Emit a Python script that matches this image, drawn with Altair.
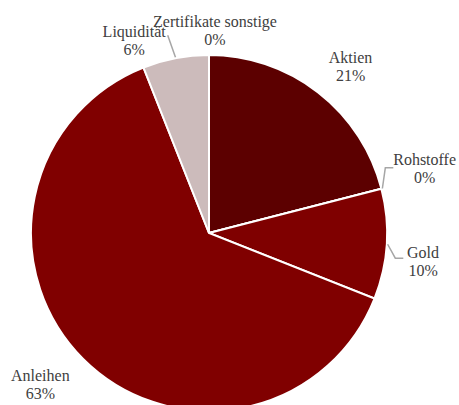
import math
import altair as alt
import pandas as pd

# ---- data ----
categories = ["Aktien", "Rohstoffe", "Gold", "Anleihen", "Liquidität", "Zertifikate  sonstige"]
values = [21, 0, 10, 63, 6, 0]
colors = ["#5C0000", "#7A0000", "#7F0000", "#800000", "#CCBBBB", "#999999"]

# ---- layout (not data) ----
CX, CY, R = 209, 233, 178
label_nudge_deg = [2.7, -2.2, 4.1, 3.0, -10.5, 1.7]
label_radius = [218, 225, 216, 227, 206, 202]
# leader lines: category -> (elbow angle nudge, elbow radius, horizontal tail)
leaders = {"Rohstoffe": (-5.9, 188, 8), "Gold": (4.1, 188, 8), "Liquidität": (-1.0, 202, 0)}

total = sum(values)
rows = []
cum = 0.0
for i, (c, v) in enumerate(zip(categories, values)):
    start = cum / total * 360
    cum += v
    end = cum / total * 360
    mid = (start + end) / 2
    pct = f"{round(v / total * 100)}%"
    rows.append(dict(idx=i, cat=c, value=v, mid=mid,
                     label=f"{c}\n{pct}",
                     label_angle=mid + label_nudge_deg[i],
                     label_r=label_radius[i]))
df = pd.DataFrame(rows)


def polar(a_deg, r):
    a = math.radians(a_deg)
    return CX + r * math.sin(a), CY - r * math.cos(a)


lrows = []
for _, row in df.iterrows():
    if row["cat"] in leaders:
        nud, er, tail = leaders[row["cat"]]
        p0 = polar(row["mid"], R + 1)
        p1 = polar(row["mid"] + nud, er)
        p2 = (p1[0] + tail, p1[1])
        for k, p in enumerate([p0, p1, p2]):
            lrows.append(dict(cat=row["cat"], k=k, px=p[0], py=p[1]))
ldf = pd.DataFrame(lrows)

arcs = alt.Chart(df).mark_arc(stroke="white", strokeWidth=2).encode(
    theta=alt.Theta("value:Q", stack=True),
    order=alt.Order("idx:Q"),
    color=alt.Color("cat:N", scale=alt.Scale(domain=categories, range=colors), legend=None),
    x=alt.value(CX), y=alt.value(CY),
    radius=alt.value(R),
)

texts = alt.Chart(df).mark_text(
    font="Liberation Serif", fontSize=16, color="#404040", lineBreak="\n",
    lineHeight=18, align="center", baseline="middle", dy=-9,
).encode(
    theta=alt.Theta("label_angle:Q", scale=alt.Scale(domain=[0, 360], range=[0, 2 * math.pi]), stack=None),
    radius=alt.Radius("label_r:Q", scale=None),
    x=alt.value(CX), y=alt.value(CY),
    text="label:N",
)

lines = alt.Chart(ldf).mark_line(color="#A6A6A6", strokeWidth=1.5).encode(
    x=alt.X("px:Q", scale=None), y=alt.Y("py:Q", scale=None),
    detail="cat:N", order="k:Q",
)

chart = alt.layer(arcs, lines, texts).resolve_scale(theta="independent", radius="independent").properties(
    width=459, height=405, autosize=alt.AutoSizeParams(type="none"), padding=0,
).configure_view(stroke=None)

chart.save("out.html", embed_options={"renderer": "svg", "actions": False})
